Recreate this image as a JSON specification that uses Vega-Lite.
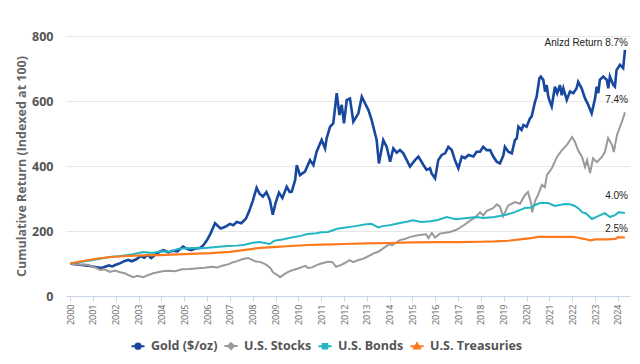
{
  "$schema": "https://vega.github.io/schema/vega-lite/v6.json",
  "width": 564,
  "height": 260,
  "autosize": "none",
  "padding": {"left": 66, "top": 36, "right": 10, "bottom": 68},
  "background": "white",
  "config": {"view": {"stroke": null}, "font": "Open Sans"},
  "datasets": {
    "gold": [
      {"year":2000.0,"value":100},{"year":2000.2,"value":98},{"year":2000.4,"value":96},{"year":2000.6,"value":95},{"year":2000.8,"value":93},{"year":2001.0,"value":91},{"year":2001.2,"value":88},{"year":2001.35,"value":86},{"year":2001.5,"value":89},{"year":2001.7,"value":94},{"year":2001.85,"value":91},{"year":2002.0,"value":96},{"year":2002.2,"value":101},{"year":2002.4,"value":108},{"year":2002.55,"value":111},{"year":2002.7,"value":107},{"year":2002.9,"value":113},{"year":2003.1,"value":123},{"year":2003.25,"value":118},{"year":2003.4,"value":126},{"year":2003.55,"value":117},{"year":2003.75,"value":128},{"year":2003.95,"value":137},{"year":2004.1,"value":141},{"year":2004.3,"value":134},{"year":2004.5,"value":139},{"year":2004.7,"value":137},{"year":2004.95,"value":152},{"year":2005.1,"value":146},{"year":2005.3,"value":141},{"year":2005.5,"value":146},{"year":2005.7,"value":148},{"year":2005.85,"value":157},{"year":2006.0,"value":172},{"year":2006.15,"value":192},{"year":2006.35,"value":224},{"year":2006.5,"value":214},{"year":2006.6,"value":208},{"year":2006.8,"value":213},{"year":2007.0,"value":222},{"year":2007.15,"value":218},{"year":2007.3,"value":228},{"year":2007.5,"value":224},{"year":2007.7,"value":238},{"year":2007.85,"value":262},{"year":2008.0,"value":292},{"year":2008.17,"value":333},{"year":2008.3,"value":315},{"year":2008.45,"value":306},{"year":2008.6,"value":320},{"year":2008.75,"value":296},{"year":2008.88,"value":250},{"year":2009.0,"value":286},{"year":2009.15,"value":318},{"year":2009.3,"value":302},{"year":2009.49,"value":336},{"year":2009.62,"value":320},{"year":2009.71,"value":321},{"year":2009.86,"value":357},{"year":2009.93,"value":403},{"year":2010.07,"value":372},{"year":2010.29,"value":383},{"year":2010.51,"value":418},{"year":2010.66,"value":403},{"year":2010.8,"value":444},{"year":2011.02,"value":480},{"year":2011.17,"value":454},{"year":2011.24,"value":485},{"year":2011.39,"value":521},{"year":2011.53,"value":531},{"year":2011.68,"value":624},{"year":2011.8,"value":557},{"year":2011.9,"value":588},{"year":2012.0,"value":531},{"year":2012.12,"value":603},{"year":2012.26,"value":608},{"year":2012.41,"value":536},{"year":2012.63,"value":562},{"year":2012.78,"value":613},{"year":2012.92,"value":593},{"year":2013.07,"value":572},{"year":2013.21,"value":542},{"year":2013.43,"value":480},{"year":2013.53,"value":408},{"year":2013.72,"value":480},{"year":2013.87,"value":459},{"year":2014.02,"value":413},{"year":2014.16,"value":454},{"year":2014.31,"value":441},{"year":2014.45,"value":449},{"year":2014.6,"value":439},{"year":2014.75,"value":418},{"year":2014.89,"value":398},{"year":2015.11,"value":418},{"year":2015.26,"value":429},{"year":2015.48,"value":403},{"year":2015.62,"value":388},{"year":2015.77,"value":393},{"year":2015.84,"value":377},{"year":2015.99,"value":362},{"year":2016.13,"value":418},{"year":2016.28,"value":434},{"year":2016.43,"value":439},{"year":2016.57,"value":459},{"year":2016.72,"value":449},{"year":2016.86,"value":418},{"year":2017.01,"value":393},{"year":2017.16,"value":429},{"year":2017.3,"value":424},{"year":2017.45,"value":434},{"year":2017.67,"value":429},{"year":2017.81,"value":444},{"year":2017.96,"value":444},{"year":2018.1,"value":459},{"year":2018.25,"value":449},{"year":2018.4,"value":449},{"year":2018.54,"value":429},{"year":2018.69,"value":413},{"year":2018.83,"value":408},{"year":2018.98,"value":432},{"year":2019.05,"value":459},{"year":2019.2,"value":444},{"year":2019.35,"value":439},{"year":2019.49,"value":480},{"year":2019.57,"value":485},{"year":2019.64,"value":521},{"year":2019.78,"value":511},{"year":2019.86,"value":526},{"year":2020.0,"value":521},{"year":2020.15,"value":547},{"year":2020.22,"value":552},{"year":2020.37,"value":598},{"year":2020.44,"value":613},{"year":2020.56,"value":670},{"year":2020.62,"value":675},{"year":2020.73,"value":665},{"year":2020.81,"value":629},{"year":2020.88,"value":649},{"year":2020.95,"value":613},{"year":2021.02,"value":598},{"year":2021.1,"value":583},{"year":2021.17,"value":613},{"year":2021.24,"value":644},{"year":2021.34,"value":624},{"year":2021.46,"value":649},{"year":2021.54,"value":618},{"year":2021.61,"value":639},{"year":2021.76,"value":603},{"year":2021.9,"value":629},{"year":2022.05,"value":624},{"year":2022.19,"value":639},{"year":2022.26,"value":659},{"year":2022.41,"value":639},{"year":2022.56,"value":608},{"year":2022.7,"value":588},{"year":2022.85,"value":562},{"year":2023.0,"value":608},{"year":2023.07,"value":644},{"year":2023.14,"value":624},{"year":2023.21,"value":665},{"year":2023.36,"value":675},{"year":2023.51,"value":665},{"year":2023.58,"value":639},{"year":2023.65,"value":675},{"year":2023.8,"value":649},{"year":2023.87,"value":644},{"year":2023.94,"value":695},{"year":2024.09,"value":711},{"year":2024.23,"value":701},{"year":2024.31,"value":757}
    ],
    "stocks": [
      {"year":2000.0,"value":100},{"year":2000.2,"value":98},{"year":2000.45,"value":96},{"year":2000.7,"value":97},{"year":2000.88,"value":93},{"year":2001.1,"value":88},{"year":2001.31,"value":80},{"year":2001.5,"value":82},{"year":2001.75,"value":74},{"year":2001.95,"value":78},{"year":2002.19,"value":73},{"year":2002.4,"value":70},{"year":2002.6,"value":63},{"year":2002.76,"value":58},{"year":2002.95,"value":62},{"year":2003.2,"value":58},{"year":2003.4,"value":64},{"year":2003.64,"value":70},{"year":2003.9,"value":74},{"year":2004.1,"value":77},{"year":2004.38,"value":78},{"year":2004.6,"value":76},{"year":2004.9,"value":82},{"year":2005.2,"value":83},{"year":2005.39,"value":84},{"year":2005.7,"value":86},{"year":2005.9,"value":87},{"year":2006.2,"value":90},{"year":2006.44,"value":88},{"year":2006.7,"value":94},{"year":2006.95,"value":98},{"year":2007.14,"value":104},{"year":2007.35,"value":108},{"year":2007.53,"value":113},{"year":2007.8,"value":117},{"year":2007.95,"value":112},{"year":2008.15,"value":106},{"year":2008.32,"value":105},{"year":2008.55,"value":98},{"year":2008.76,"value":87},{"year":2008.9,"value":72},{"year":2009.05,"value":66},{"year":2009.2,"value":58},{"year":2009.4,"value":68},{"year":2009.6,"value":76},{"year":2009.77,"value":80},{"year":2009.95,"value":84},{"year":2010.15,"value":89},{"year":2010.3,"value":93},{"year":2010.42,"value":86},{"year":2010.6,"value":88},{"year":2010.8,"value":95},{"year":2011.0,"value":100},{"year":2011.3,"value":105},{"year":2011.5,"value":104},{"year":2011.65,"value":90},{"year":2011.85,"value":95},{"year":2012.0,"value":100},{"year":2012.25,"value":110},{"year":2012.4,"value":104},{"year":2012.6,"value":110},{"year":2012.85,"value":115},{"year":2013.0,"value":120},{"year":2013.3,"value":131},{"year":2013.5,"value":136},{"year":2013.75,"value":148},{"year":2014.0,"value":160},{"year":2014.1,"value":156},{"year":2014.45,"value":172},{"year":2014.7,"value":176},{"year":2014.9,"value":182},{"year":2015.3,"value":188},{"year":2015.6,"value":190},{"year":2015.7,"value":178},{"year":2015.85,"value":194},{"year":2015.99,"value":180},{"year":2016.2,"value":192},{"year":2016.64,"value":197},{"year":2016.9,"value":203},{"year":2017.08,"value":210},{"year":2017.3,"value":220},{"year":2017.52,"value":232},{"year":2017.75,"value":242},{"year":2017.96,"value":258},{"year":2018.1,"value":248},{"year":2018.26,"value":262},{"year":2018.53,"value":270},{"year":2018.7,"value":282},{"year":2018.83,"value":275},{"year":2018.97,"value":245},{"year":2019.19,"value":278},{"year":2019.49,"value":289},{"year":2019.71,"value":284},{"year":2019.93,"value":311},{"year":2020.06,"value":320},{"year":2020.2,"value":285},{"year":2020.24,"value":258},{"year":2020.37,"value":292},{"year":2020.5,"value":311},{"year":2020.67,"value":342},{"year":2020.8,"value":335},{"year":2020.89,"value":372},{"year":2021.11,"value":394},{"year":2021.33,"value":428},{"year":2021.55,"value":449},{"year":2021.77,"value":465},{"year":2021.99,"value":489},{"year":2022.12,"value":474},{"year":2022.25,"value":449},{"year":2022.43,"value":428},{"year":2022.56,"value":397},{"year":2022.65,"value":418},{"year":2022.78,"value":378},{"year":2022.91,"value":424},{"year":2023.08,"value":412},{"year":2023.3,"value":428},{"year":2023.43,"value":443},{"year":2023.57,"value":486},{"year":2023.74,"value":465},{"year":2023.82,"value":443},{"year":2023.96,"value":495},{"year":2024.09,"value":520},{"year":2024.22,"value":545},{"year":2024.31,"value":565}
    ],
    "bonds": [
      {"year":2000.0,"value":100},{"year":2000.5,"value":105},{"year":2001.0,"value":111},{"year":2001.5,"value":117},{"year":2001.75,"value":120},{"year":2002.2,"value":123},{"year":2002.7,"value":128},{"year":2003.2,"value":135},{"year":2003.6,"value":132},{"year":2004.0,"value":138},{"year":2004.4,"value":136},{"year":2004.7,"value":145},{"year":2005.1,"value":147},{"year":2005.4,"value":148},{"year":2005.8,"value":147},{"year":2006.4,"value":151},{"year":2006.9,"value":154},{"year":2007.3,"value":155},{"year":2007.6,"value":157},{"year":2008.0,"value":164},{"year":2008.3,"value":166},{"year":2008.75,"value":160},{"year":2008.95,"value":170},{"year":2009.3,"value":174},{"year":2009.7,"value":180},{"year":2010.1,"value":185},{"year":2010.4,"value":191},{"year":2010.8,"value":193},{"year":2011.0,"value":196},{"year":2011.3,"value":197},{"year":2011.7,"value":207},{"year":2012.0,"value":210},{"year":2012.5,"value":215},{"year":2012.9,"value":220},{"year":2013.2,"value":222},{"year":2013.5,"value":211},{"year":2013.7,"value":215},{"year":2014.0,"value":218},{"year":2014.4,"value":224},{"year":2014.8,"value":229},{"year":2015.0,"value":233},{"year":2015.4,"value":228},{"year":2015.8,"value":230},{"year":2016.1,"value":234},{"year":2016.5,"value":243},{"year":2016.9,"value":236},{"year":2017.3,"value":239},{"year":2017.8,"value":243},{"year":2018.1,"value":240},{"year":2018.6,"value":243},{"year":2019.05,"value":249},{"year":2019.49,"value":258},{"year":2019.93,"value":271},{"year":2020.2,"value":272},{"year":2020.37,"value":280},{"year":2020.59,"value":286},{"year":2020.94,"value":286},{"year":2021.24,"value":277},{"year":2021.5,"value":281},{"year":2021.68,"value":283},{"year":2021.9,"value":282},{"year":2022.12,"value":277},{"year":2022.3,"value":268},{"year":2022.43,"value":258},{"year":2022.6,"value":254},{"year":2022.87,"value":237},{"year":2023.13,"value":246},{"year":2023.43,"value":255},{"year":2023.65,"value":243},{"year":2023.87,"value":249},{"year":2024.05,"value":258},{"year":2024.31,"value":255}
    ],
    "treas": [
      {"year":2000.0,"value":100},{"year":2000.5,"value":107},{"year":2001.0,"value":113},{"year":2001.75,"value":120},{"year":2002.5,"value":123},{"year":2003.2,"value":125},{"year":2003.94,"value":126},{"year":2005.0,"value":129},{"year":2006.13,"value":132},{"year":2007.0,"value":136},{"year":2007.58,"value":141},{"year":2008.0,"value":145},{"year":2008.32,"value":148},{"year":2009.07,"value":151},{"year":2009.5,"value":153},{"year":2010.42,"value":157},{"year":2011.0,"value":158},{"year":2011.5,"value":159},{"year":2012.0,"value":160},{"year":2013.0,"value":162},{"year":2014.0,"value":163},{"year":2015.0,"value":165},{"year":2016.0,"value":166},{"year":2017.0,"value":166},{"year":2018.0,"value":167},{"year":2018.6,"value":168},{"year":2019.2,"value":170},{"year":2019.8,"value":175},{"year":2020.2,"value":178},{"year":2020.5,"value":182},{"year":2021.0,"value":182},{"year":2021.5,"value":182},{"year":2022.0,"value":182},{"year":2022.2,"value":180},{"year":2022.5,"value":176},{"year":2022.8,"value":171},{"year":2023.0,"value":174},{"year":2023.5,"value":174},{"year":2023.9,"value":176},{"year":2024.0,"value":181},{"year":2024.31,"value":180}
    ],
    "labels": [
      {"year": 2024.31, "value": 778, "label": "Anlzd Return 8.7%"},
      {"year": 2024.31, "value": 603, "label": "7.4%"},
      {"year": 2024.31, "value": 308, "label": "4.0%"},
      {"year": 2024.31, "value": 206, "label": "2.5%"}
    ]
  },
  "encoding": {
    "x": {
      "field": "year", "type": "quantitative",
      "scale": {"domain": [1999.82, 2024.53], "nice": false, "zero": false},
      "axis": {
        "values": [2000,2001,2002,2003,2004,2005,2006,2007,2008,2009,2010,2011,2012,2013,2014,2015,2016,2017,2018,2019,2020,2021,2022,2023,2024],
        "format": "d", "labelAngle": 270, "labelFontSize": 9, "labelColor": "#666666",
        "labelFont": "Open Sans", "grid": false, "domainColor": "#ccd6eb", "tickColor": "#ccd6eb",
        "tickSize": 5, "labelPadding": 3, "title": null, "labelOverlap": false
      }
    },
    "y": {
      "field": "value", "type": "quantitative",
      "scale": {"domain": [0, 800], "nice": false},
      "axis": {
        "values": [0, 200, 400, 600, 800], "grid": true, "gridColor": "#e6e6e6", "domain": false,
        "ticks": false, "labelFontSize": 12.5, "labelFontWeight": "bold", "labelColor": "#555555",
        "labelPadding": 13, "title": "Cumulative Return (Indexed at 100)", "titleFontSize": 12.5,
        "titleFontWeight": "bold", "titleColor": "#666666", "titlePadding": 3
      }
    }
  },
  "layer": [
    {
      "data": {"name": "gold"},
      "mark": {"type": "line", "strokeWidth": 2.6},
      "encoding": {"color": {"datum": "Gold ($/oz)", "type": "nominal",
        "scale": {"domain": ["Gold ($/oz)", "U.S. Stocks", "U.S. Bonds", "U.S. Treasuries"],
                  "range": ["#17479e", "#9a9a9a", "#22b6c2", "#fd7a1c"]},
        "legend": {
          "orient": "none", "legendX": 64, "legendY": 302, "direction": "horizontal", "title": null,
          "labelFontSize": 12.5, "labelFontWeight": "bold", "labelColor": "#555555", "labelFont": "Open Sans",
          "symbolSize": 170, "symbolStrokeWidth": 2, "columnPadding": 2, "labelOffset": 5,
          "encode": {"symbols": {"update": {
            "fill": {"scale": "color", "field": "value"},
            "shape": {"signal": "datum.value === 'Gold ($/oz)' ? 'M-1,0H1M-0.4,0A0.4,0.4 0 1,1 0.4,0A0.4,0.4 0 1,1 -0.4,0Z' : datum.value === 'U.S. Stocks' ? 'M-1,0H1M0,-0.45L0.45,0L0,0.45L-0.45,0Z' : datum.value === 'U.S. Bonds' ? 'M-1,0H1M-0.35,-0.35H0.35V0.35H-0.35Z' : 'M-1,0H1M0,-0.45L0.45,0.35H-0.45Z'"}
          }}}
        }}}
    },
    {
      "data": {"name": "stocks"},
      "mark": {"type": "line", "strokeWidth": 2},
      "encoding": {"color": {"datum": "U.S. Stocks", "type": "nominal"}}
    },
    {
      "data": {"name": "bonds"},
      "mark": {"type": "line", "strokeWidth": 2},
      "encoding": {"color": {"datum": "U.S. Bonds", "type": "nominal"}}
    },
    {
      "data": {"name": "treas"},
      "mark": {"type": "line", "strokeWidth": 2.2},
      "encoding": {"color": {"datum": "U.S. Treasuries", "type": "nominal"}}
    },
    {
      "data": {"name": "labels"},
      "mark": {"type": "text", "align": "right", "baseline": "middle", "dx": 3, "fontSize": 10, "font": "Liberation Sans", "color": "#222222"},
      "encoding": {"text": {"field": "label", "type": "nominal"}}
    }
  ]
}
